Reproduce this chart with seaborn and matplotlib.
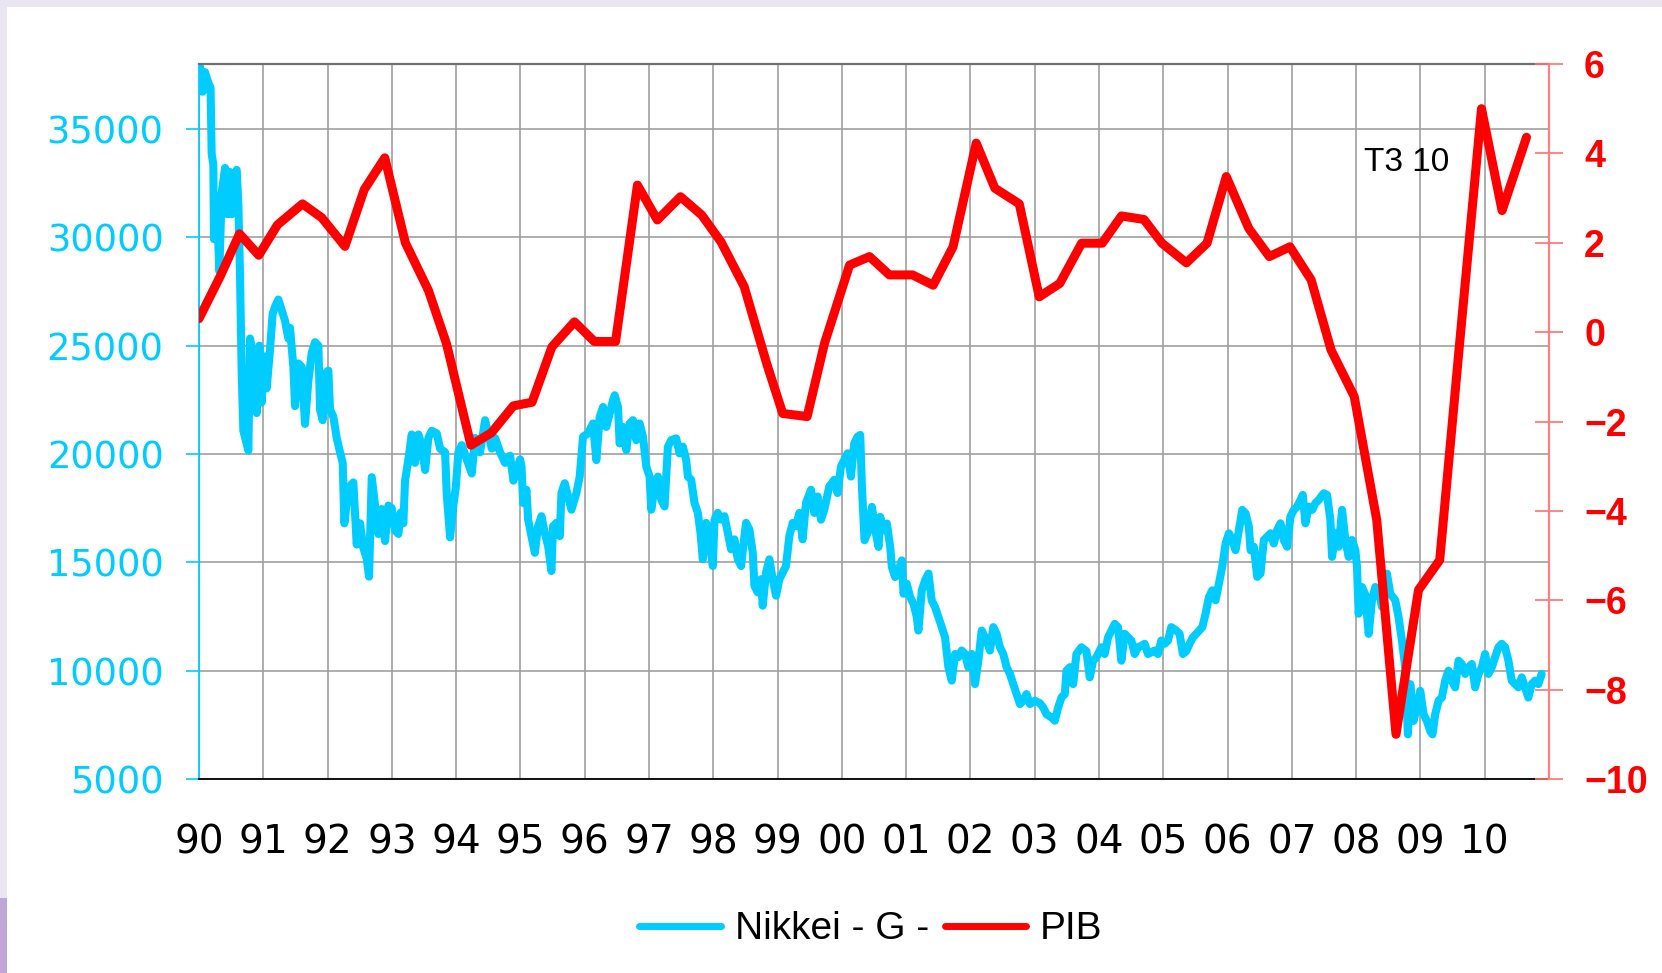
import matplotlib
matplotlib.use("Agg")
import matplotlib.pyplot as plt
from matplotlib.lines import Line2D
from matplotlib.patches import Rectangle
import seaborn as sns

sns.set_style("white")
plt.rcParams['font.family'] = ['DejaVu Sans']
plt.rcParams['text.color'] = 'black'

# Nikkei (lecture du graphique, années décimales)
nikkei_year = [
    1990.016, 1990.057, 1990.093, 1990.145, 1990.18, 1990.197, 1990.223, 1990.233, 1990.275, 1990.316,
    1990.353, 1990.405, 1990.441, 1990.472, 1990.508, 1990.545, 1990.586, 1990.612, 1990.638, 1990.664,
    1990.69, 1990.768, 1990.794, 1990.845, 1990.897, 1990.939, 1990.975, 1991.011, 1991.053, 1991.105,
    1991.146, 1991.183, 1991.234, 1991.286, 1991.338, 1991.39, 1991.416, 1991.468, 1991.494, 1991.546,
    1991.598, 1991.649, 1991.701, 1991.753, 1991.805, 1991.857, 1991.883, 1991.924, 1991.961, 1992.012,
    1992.038, 1992.09, 1992.142, 1992.194, 1992.235, 1992.261, 1992.324, 1992.401, 1992.453, 1992.505,
    1992.557, 1992.609, 1992.645, 1992.687, 1992.739, 1992.79, 1992.842, 1992.894, 1992.946, 1992.998,
    1993.05, 1993.102, 1993.138, 1993.179, 1993.205, 1993.257, 1993.309, 1993.361, 1993.413, 1993.465,
    1993.517, 1993.568, 1993.62, 1993.698, 1993.75, 1993.828, 1993.854, 1993.906, 1993.957, 1993.994,
    1994.035, 1994.087, 1994.165, 1994.243, 1994.295, 1994.372, 1994.45, 1994.502, 1994.554, 1994.606,
    1994.684, 1994.761, 1994.839, 1994.891, 1994.943, 1994.995,
    1995.017, 1995.042, 1995.094, 1995.12, 1995.172, 1995.224, 1995.275, 1995.327, 1995.379, 1995.431,
    1995.482, 1995.508, 1995.56, 1995.612, 1995.638, 1995.689, 1995.741, 1995.793, 1995.871, 1995.922,
    1995.948, 1995.974, 1996.052, 1996.129, 1996.181, 1996.233, 1996.285, 1996.336, 1996.388, 1996.44,
    1996.466, 1996.518, 1996.543, 1996.595, 1996.647, 1996.699, 1996.751, 1996.802, 1996.854, 1996.906,
    1996.958, 1997.009, 1997.035, 1997.087, 1997.139, 1997.19, 1997.242, 1997.294, 1997.346, 1997.423,
    1997.475, 1997.527, 1997.579, 1997.605, 1997.656, 1997.708, 1997.76, 1997.801, 1997.837, 1997.889,
    1997.941, 1997.993, 1998.019, 1998.07, 1998.122, 1998.174, 1998.226, 1998.277, 1998.329, 1998.381,
    1998.433, 1998.484, 1998.51, 1998.562, 1998.614, 1998.64, 1998.692, 1998.743, 1998.769, 1998.821,
    1998.873, 1998.924, 1998.976, 1999.028, 1999.08, 1999.131, 1999.183, 1999.235, 1999.287, 1999.339,
    1999.39, 1999.442, 1999.52, 1999.571, 1999.623, 1999.675, 1999.727, 1999.804, 1999.882, 1999.934,
    1999.986, 2000.037, 2000.089, 2000.141, 2000.193, 2000.244,
    2000.286, 2000.312, 2000.353, 2000.415, 2000.467, 2000.519, 2000.571, 2000.596, 2000.648, 2000.7,
    2000.752, 2000.778, 2000.829, 2000.881, 2000.933, 2000.959, 2001.01, 2001.062, 2001.114, 2001.166,
    2001.191, 2001.243, 2001.295, 2001.347, 2001.398, 2001.45, 2001.502, 2001.554, 2001.605, 2001.657,
    2001.709, 2001.761, 2001.812, 2001.864, 2001.916, 2001.968, 2002.02, 2002.071, 2002.123, 2002.175,
    2002.252, 2002.304, 2002.356, 2002.407, 2002.459, 2002.511, 2002.563, 2002.615, 2002.666, 2002.718,
    2002.77, 2002.822, 2002.873, 2002.925, 2003.003, 2003.08, 2003.132, 2003.184, 2003.261, 2003.313,
    2003.365, 2003.417, 2003.468, 2003.494, 2003.546, 2003.598, 2003.649, 2003.727, 2003.805, 2003.856,
    2003.908, 2003.96, 2004.037, 2004.089, 2004.141, 2004.193, 2004.244, 2004.296, 2004.348, 2004.4,
    2004.451, 2004.503, 2004.555, 2004.607, 2004.658, 2004.71, 2004.762, 2004.814, 2004.866, 2004.917,
    2004.969, 2005.021, 2005.073, 2005.124, 2005.202, 2005.254, 2005.305, 2005.357, 2005.409, 2005.461,
    2005.512,
    2005.607, 2005.658, 2005.71, 2005.762, 2005.814, 2005.865, 2005.917, 2005.969, 2006.021, 2006.072,
    2006.124, 2006.176, 2006.228, 2006.28, 2006.331, 2006.357, 2006.409, 2006.461, 2006.512, 2006.564,
    2006.616, 2006.668, 2006.719, 2006.771, 2006.823, 2006.875, 2006.927, 2006.978, 2007.03, 2007.082,
    2007.134, 2007.17, 2007.211, 2007.263, 2007.315, 2007.366, 2007.418, 2007.496, 2007.548, 2007.599,
    2007.625, 2007.677, 2007.729, 2007.781, 2007.832, 2007.884, 2007.936, 2007.988, 2008.013, 2008.039,
    2008.091, 2008.143, 2008.195, 2008.246, 2008.298, 2008.35, 2008.402, 2008.479, 2008.531, 2008.609,
    2008.66, 2008.712, 2008.764, 2008.805, 2008.842, 2008.893, 2008.945, 2008.997, 2009.049, 2009.1,
    2009.152, 2009.188, 2009.23, 2009.282, 2009.333, 2009.385, 2009.437, 2009.489, 2009.54, 2009.592,
    2009.644, 2009.696, 2009.747, 2009.799, 2009.851, 2009.903, 2009.954, 2010.006, 2010.058, 2010.11,
    2010.161, 2010.213, 2010.265, 2010.317, 2010.369, 2010.42, 2010.472, 2010.524, 2010.576, 2010.627,
    2010.679, 2010.731, 2010.783, 2010.834, 2010.886,
]
nikkei_value = [
    37870, 36720, 37620, 37130, 36900, 33850, 33360, 29920, 31890, 28440,
    32050, 33200, 31070, 33030, 31070, 32870, 33110, 31560, 28280, 23690,
    21070, 20160, 25330, 24510, 21890, 25000, 22380, 24510, 23030, 24840,
    26480, 26800, 27130, 26640, 26150, 25330, 25820, 24020, 22210, 24180,
    24020, 21390, 23360, 24670, 25160, 25000, 22050, 21560, 23690, 23850,
    22050, 21720, 20740, 20080, 19590, 16800, 18440, 18690, 15820, 16800,
    15660, 15160, 14340, 18930, 17620, 16310, 17460, 15980, 17620, 17500,
    16480, 16310, 17300, 16800, 18770, 19750, 20900, 19590, 20900, 20410,
    19260, 20740, 21070, 20950, 20250, 20080, 18110, 16150, 17620, 18440,
    20080, 20410, 19750, 19100, 20740, 20080, 21560, 20900, 20250, 20740,
    20080, 19590, 19920, 18770, 19260, 19750,
    19420, 17740, 18350, 16970, 16210, 15440, 16670, 17130, 16360, 15750,
    14600, 16670, 16820, 16210, 18200, 18650, 18040, 17430, 18200, 18960,
    19880, 20800, 20950, 21410, 19720, 21710, 22170, 21250, 21870, 22480,
    22710, 22170, 20490, 21250, 20180, 21410, 21560, 20640, 21410, 20800,
    19420, 18960, 17430, 18500, 18960, 17890, 17580, 20340, 20640, 20720,
    20030, 20340, 19720, 18960, 18810, 17740, 17280, 16360, 15140, 16820,
    16060, 14830, 16970, 17280, 16970, 17130, 16360, 15600, 16060, 15140,
    14830, 16210, 16820, 16510, 15440, 13910, 13610, 14220, 13000, 14530,
    15140, 14220, 13460, 14220, 14530, 14830, 16210, 16820, 16670, 17280,
    16060, 17740, 18350, 17280, 18040, 16970, 17430, 18500, 18810, 18200,
    19420, 19720, 20030, 18960, 20490, 20800,
    20880, 18490, 16020, 16480, 17560, 16480, 15710, 17100, 16480, 16790,
    15710, 14780, 14320, 14630, 15090, 13550, 14010, 13400, 13090, 12470,
    11850, 13700, 14170, 14480, 13240, 12930, 12470, 12010, 11540, 10160,
    9540, 10770, 10620, 10930, 10770, 10160, 10770, 9380, 10460, 11850,
    11390, 10930, 12010, 11700, 11080, 10770, 10160, 9850, 9380, 8920,
    8460, 8610, 8920, 8460, 8610, 8500, 8300, 7990, 7840, 7690,
    8300, 8770, 8920, 10000, 10160, 9380, 10770, 11080, 10900, 9690,
    10460, 10620, 11080, 10770, 11540, 11850, 12160, 12010, 10460, 11700,
    11540, 11390, 10770, 11080, 11150, 11240, 10770, 10850, 10930, 10770,
    11390, 11240, 11390, 12010, 11850, 11700, 10770, 10900, 11240, 11540,
    11700,
    12010, 12630, 13400, 13710, 13250, 14020, 14790, 15870, 16340, 16030,
    15560, 16490, 17420, 17260, 16650, 15560, 15720, 14330, 14480, 16030,
    16180, 16340, 15870, 16490, 16800, 16030, 15720, 17110, 17420, 17570,
    17880, 18110, 16800, 17570, 17420, 17730, 17880, 18190, 18110, 16950,
    15250, 16340, 15720, 17420, 16030, 15250, 16030, 15560, 14790, 12630,
    13860, 13500, 11700, 13250, 13860, 13710, 12940, 14480, 13550, 13250,
    12470, 11390, 10150, 7060, 9380, 7680, 8300, 9070, 7990, 7680,
    7220, 7060, 7990, 8610, 8760, 9540, 10000, 9540, 9230, 10460,
    10310, 9850, 10150, 10310, 9230, 9850, 10150, 10770, 9850, 10150,
    10620, 11080, 11240, 11080, 10460, 9540, 9380, 9230, 9690, 9230,
    8760, 9380, 9540, 9380, 9850,
]

# PIB (%), points
pib_year = [
    1990.0, 1990.33, 1990.63, 1990.93, 1991.22, 1991.61, 1991.91, 1992.27, 1992.57, 1992.89,
    1993.21, 1993.57, 1993.85, 1994.23, 1994.55, 1994.89, 1995.18, 1995.49, 1995.84, 1996.15,
    1996.48, 1996.82, 1997.13, 1997.49, 1997.82, 1998.12, 1998.48, 1998.83, 1999.08, 1999.46,
    1999.73, 2000.12, 2000.43, 2000.74, 2001.1, 2001.42, 2001.73, 2002.09, 2002.38, 2002.76,
    2003.07, 2003.39, 2003.73, 2004.05, 2004.35, 2004.7, 2004.98, 2005.36, 2005.68, 2005.98,
    2006.33, 2006.65, 2006.97, 2007.3, 2007.61, 2007.97, 2008.32, 2008.62, 2008.97, 2009.3,
    2009.6, 2009.95, 2010.27, 2010.65,
]
pib_value = [
    0.3, 1.25, 2.2, 1.72, 2.4, 2.87, 2.56, 1.92, 3.19, 3.9,
    2.0, 0.93, -0.26, -2.53, -2.25, -1.65, -1.57, -0.33, 0.23, -0.21,
    -0.21, 3.29, 2.51, 3.03, 2.62, 2.02, 1.02, -0.70, -1.82, -1.89,
    -0.25, 1.50, 1.69, 1.28, 1.28, 1.05, 1.91, 4.23, 3.22, 2.87,
    0.79, 1.09, 1.99, 1.99, 2.6, 2.52, 1.99, 1.55, 1.99, 3.48,
    2.32, 1.69, 1.91, 1.17, -0.40, -1.44, -4.2, -9.0, -5.77, -5.1,
    -0.4, 5.0, 2.72, 4.36,
]

years = list(range(1990, 2011))
year_labels = [f"{y % 100:02d}" for y in years]
nikkei_ticks = [5000, 10000, 15000, 20000, 25000, 30000, 35000]
pib_ticks = [-10, -8, -6, -4, -2, 0, 2, 4, 6]

CYAN = '#00CCFF'
RED = '#FF0000'
ARIAL = ['Liberation Sans', 'DejaVu Sans']

W, H = 1662, 973
fig = plt.figure(figsize=(W / 100, H / 100), dpi=100)
fig.patch.set_facecolor('#e9e5f1')
# fond blanc de la diapo + bande violette en bas à gauche
fig.add_artist(Rectangle((0, 0), 7 / W, 75 / H, transform=fig.transFigure,
                         facecolor='#bfa6d8', edgecolor='none', zorder=-2))
fig.add_artist(Rectangle((7 / W, 0), 1, 1 - 7 / H, transform=fig.transFigure,
                         facecolor='white', edgecolor='none', zorder=-1))

ax = fig.add_axes([199 / W, 1 - 779 / H, 1350 / W, 715 / H])
ax2 = ax.twinx()

sns.lineplot(x=nikkei_year, y=nikkei_value, ax=ax, color=CYAN, linewidth=5.8,
             estimator=None, sort=False, legend=False)
sns.lineplot(x=pib_year, y=pib_value, ax=ax2, color=RED, linewidth=6.5,
             estimator=None, sort=False, legend=False)
for ln in ax.lines + ax2.lines:
    ln.set_solid_joinstyle('round')
    ln.set_solid_capstyle('round')

ax.set_xlim(1990, 2011)
ax.set_ylim(5000, 38000)
ax2.set_ylim(-10, 6)
ax.set_xticks(years)
ax.set_xticklabels(year_labels)
ax.set_yticks(nikkei_ticks)
ax.set_yticklabels([str(v) for v in nikkei_ticks])
ax2.set_yticks(pib_ticks)
ax.set_xlabel('')
ax.set_ylabel('')
ax2.set_ylabel('')

ax.grid(True, color='#a0a0a0', linewidth=1.2)
ax.set_axisbelow(True)

ax.tick_params(axis='y', colors=CYAN, labelsize=26.5, length=9.4, width=1.2,
               direction='out', pad=16)
ax.tick_params(axis='x', colors='black', labelsize=28, length=8.5, width=1.2,
               direction='out', pad=23.5)
ax2.tick_params(axis='y', colors='#ff7070', labelcolor=RED, labelsize=27,
                length=19.5, width=1.2, direction='inout', pad=15.5)
for lab in ax2.get_yticklabels():
    lab.set_fontweight('bold')
    lab.set_family(ARIAL)

ax.spines['left'].set_color(CYAN)
ax.spines['left'].set_linewidth(1.3)
ax.spines['bottom'].set_color('black')
ax.spines['bottom'].set_linewidth(1.3)
ax.spines['top'].set_color('#707070')
ax.spines['top'].set_linewidth(1.6)
ax.spines['right'].set_visible(False)
for s in ['left', 'top', 'bottom']:
    ax2.spines[s].set_visible(False)
ax2.spines['right'].set_color('#ff8080')
ax2.spines['right'].set_linewidth(1.6)

ax2.text(2008.12, 3.61, 'T3 10', ha='left', va='baseline', fontsize=24,
         family=ARIAL, color='black')

handles = [
    Line2D([], [], color=CYAN, linewidth=5, solid_capstyle='round'),
    Line2D([], [], color=RED, linewidth=5, solid_capstyle='round'),
]
fig.legend(handles, ['Nikkei - G -', 'PIB'], loc='center', bbox_to_anchor=(0.524, 0.045),
           ncol=2, frameon=False, handlelength=2.1, handletextpad=0.35,
           columnspacing=0.4, labelcolor='black', prop={'family': ARIAL, 'size': 28})

fig.savefig('out.png', dpi=100)
